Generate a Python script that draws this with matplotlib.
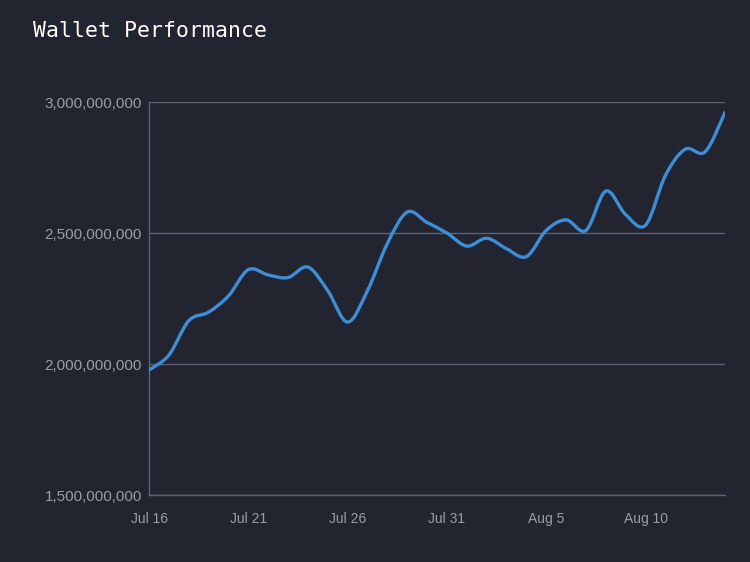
import matplotlib
matplotlib.use('Agg')
import matplotlib.pyplot as plt
import matplotlib.dates as mdates
from matplotlib.path import Path
from matplotlib.patches import PathPatch
from matplotlib.ticker import FuncFormatter
import numpy as np
import datetime as dt

# daily wallet value, Jul 16 .. Aug 14
start = dt.date(2018, 7, 16)
values = [1.977, 2.034, 2.165, 2.198, 2.26, 2.36, 2.34, 2.33, 2.37, 2.28,
          2.16, 2.28, 2.46, 2.58, 2.54, 2.50, 2.45, 2.48, 2.44, 2.41,
          2.51, 2.55, 2.51, 2.66, 2.57, 2.53, 2.72, 2.82, 2.81, 2.96]
values = [v * 1e9 for v in values]
dates = [start + dt.timedelta(days=i) for i in range(len(values))]

yticks = [1.5e9, 2.0e9, 2.5e9, 3.0e9]
xticks = [dt.date(2018, 7, 16), dt.date(2018, 7, 21), dt.date(2018, 7, 26),
          dt.date(2018, 7, 31), dt.date(2018, 8, 5), dt.date(2018, 8, 10)]

bg = '#222430'
grid = '#5b6272'
txt = '#9a9ca6'
blue = '#3a8fd8'

fig = plt.figure(figsize=(7.5, 5.62), dpi=100, facecolor=bg)
ax = fig.add_axes([0.1987, 0.1192, 0.768, 0.6993], facecolor=bg)

x = mdates.date2num(dates)
y = np.array(values)

# smooth curve through the points (catmull-rom as bezier segments)
verts = [(x[0], y[0])]
codes = [Path.MOVETO]
n = len(x)
for i in range(n - 1):
    p0 = (x[i - 1], y[i - 1]) if i > 0 else (x[i], y[i])
    p1 = (x[i], y[i])
    p2 = (x[i + 1], y[i + 1])
    p3 = (x[i + 2], y[i + 2]) if i + 2 < n else (x[i + 1], y[i + 1])
    c1 = (p1[0] + (p2[0] - p0[0]) / 6, p1[1] + (p2[1] - p0[1]) / 6)
    c2 = (p2[0] - (p3[0] - p1[0]) / 6, p2[1] - (p3[1] - p1[1]) / 6)
    verts += [c1, c2, p2]
    codes += [Path.CURVE4] * 3
ax.add_patch(PathPatch(Path(verts, codes), fill=False, edgecolor=blue,
                       lw=2.4, capstyle='round', joinstyle='round', zorder=3))

ax.set_xlim(x[0], x[-1])
ax.set_ylim(1.5e9, 3.0e9)
ax.set_yticks(yticks)
ax.set_xticks(mdates.date2num(xticks))
ax.yaxis.set_major_formatter(FuncFormatter(lambda v, p: '{:,.0f}'.format(v)))
ax.set_xticklabels([d.strftime('%b ') + str(d.day) for d in xticks])
ax.grid(axis='y', color=grid, lw=1)
ax.set_axisbelow(True)
for s in ['top', 'right']:
    ax.spines[s].set_visible(False)
for s in ['left', 'bottom']:
    ax.spines[s].set_color(grid)
    ax.spines[s].set_linewidth(1)
ax.tick_params(length=0, colors=txt)
ax.tick_params(axis='y', labelsize=11, pad=5)
ax.tick_params(axis='x', labelsize=10, pad=12)
for lab in ax.get_xticklabels() + ax.get_yticklabels():
    lab.set_family('Liberation Sans')

fig.text(0.044, 0.944, 'Wallet Performance', color='white', fontsize=15.5,
         family='DejaVu Sans Mono', va='center', ha='left')

plt.savefig('out.png', facecolor=bg)
